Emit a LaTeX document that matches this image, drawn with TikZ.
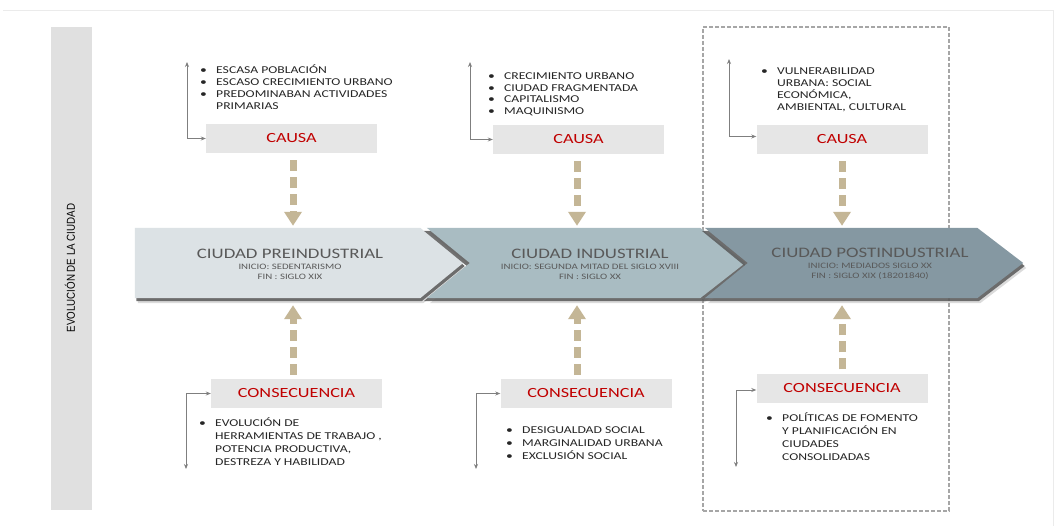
\documentclass[tikz,border=0pt]{standalone}
\usepackage{fontspec}
\setmainfont{Carlito}[FakeStretch=1.3]
\newfontfamily\narrowfont{Liberation Sans}[FakeStretch=0.85]
\usetikzlibrary{arrows.meta}
\definecolor{tanc}{HTML}{C4B696}
\definecolor{boxgray}{HTML}{E6E6E6}
\definecolor{causared}{HTML}{C00000}
\definecolor{listc}{HTML}{262626}
\definecolor{brk}{HTML}{7F7F7F}
\definecolor{barc}{HTML}{E0E0E0}
\definecolor{chA}{HTML}{DCE2E5}
\definecolor{chB}{HTML}{A9BCC2}
\definecolor{chC}{HTML}{8598A2}
\definecolor{chtext}{HTML}{595959}
\definecolor{dashc}{HTML}{A6A6A6}
\newcommand{\blist}[2]{\fontsize{10.5}{#1}\selectfont\begin{tabular}[t]{@{}p{16pt}@{}l@{}}#2\end{tabular}}
\tikzset{
  boxlbl/.style={fill=boxgray, minimum width=171pt, minimum height=29pt, inner sep=0pt, text=causared, font=\fontsize{14}{14}\selectfont},
  listnode/.style={anchor=base west, inner sep=0pt, text=listc},
  tanarrow/.style={draw=tanc, line width=7pt, dash pattern=on 11pt off 6pt, -{Triangle[width=17pt,length=14pt]}},
  bracket/.style={draw=brk, line width=0.8pt, {Stealth[length=5pt,width=4pt]}-{Stealth[length=5pt,width=4pt]}},
  chevbox/.style={minimum height=70pt, inner sep=0pt},
  chevshadow/.style={fill=black!65, opacity=0.85},
  chevblur/.style={fill=black!40, opacity=0.35},
  chevtext/.style={align=center, text=chtext, inner sep=0pt},
}
\begin{document}
\begin{tikzpicture}[x=1pt,y=-1pt]
\useasboundingbox (0,0) rectangle (1062,529);
\fill[white] (0,0) rectangle (1062,529);
\draw[black!8, line width=0.6pt] (3,10) -- (1053,10) -- (1053,526);

% side bar
\node[fill=barc, minimum width=41pt, minimum height=483pt, inner sep=0pt] (bar) at (71.5,268.5) {};
\node[rotate=90, font=\narrowfont\fontsize{11.5}{12}\selectfont, text=black] (bartext) at (70,268) {EVOLUCIÓN DE LA CIUDAD};

% dashed frame
\node[draw=dashc, line width=1.5pt, dash pattern=on 4pt off 2pt, minimum width=246pt, minimum height=484pt, inner sep=0pt] (frame) at (826,269) {};

% chevrons
\node[chevbox, minimum width=328pt] (ch1) at (299,263) {};
\node[chevbox, minimum width=318pt] (ch2) at (586,263) {};
\node[chevbox, minimum width=318pt] (ch3) at (864,263) {};

\fill[chevblur] ([shift={(3,5)}]ch1.north west) -- ([shift={(-40,5)}]ch1.north east) -- ([shift={(3,5)}]ch1.east) -- ([shift={(-40,5)}]ch1.south east) -- ([shift={(3,5)}]ch1.south west) -- cycle;
\fill[chevshadow] ([shift={(1.5,3)}]ch1.north west) -- ([shift={(-41.5,3)}]ch1.north east) -- ([shift={(1.5,3)}]ch1.east) -- ([shift={(-41.5,3)}]ch1.south east) -- ([shift={(1.5,3)}]ch1.south west) -- cycle;
\fill[chA] (ch1.north west) -- ([xshift=-43pt]ch1.north east) -- (ch1.east) -- ([xshift=-43pt]ch1.south east) -- (ch1.south west) -- cycle;

\fill[chevblur] ([shift={(3,5)}]ch2.north west) -- ([shift={(-42,5)}]ch2.north east) -- ([shift={(3,5)}]ch2.east) -- ([shift={(-42,5)}]ch2.south east) -- ([shift={(3,5)}]ch2.south west) -- ([shift={(46,5)}]ch2.west) -- cycle;
\fill[chevshadow] ([shift={(-3,3)}]ch2.north west) -- ([shift={(-43.5,3)}]ch2.north east) -- ([shift={(1.5,3)}]ch2.east) -- ([shift={(-43.5,3)}]ch2.south east) -- ([shift={(-3,3)}]ch2.south west) -- ([shift={(40,3)}]ch2.west) -- cycle;
\fill[chB] (ch2.north west) -- ([xshift=-45pt]ch2.north east) -- (ch2.east) -- ([xshift=-45pt]ch2.south east) -- (ch2.south west) -- ([xshift=43pt]ch2.west) -- cycle;

\fill[chevblur] ([shift={(3,5)}]ch3.north west) -- ([shift={(-43,5)}]ch3.north east) -- ([shift={(3,5)}]ch3.east) -- ([shift={(-43,5)}]ch3.south east) -- ([shift={(3,5)}]ch3.south west) -- ([shift={(46,5)}]ch3.west) -- cycle;
\fill[chevshadow] ([shift={(-3,3)}]ch3.north west) -- ([shift={(-44.5,3)}]ch3.north east) -- ([shift={(1.5,3)}]ch3.east) -- ([shift={(-44.5,3)}]ch3.south east) -- ([shift={(-3,3)}]ch3.south west) -- ([shift={(40,3)}]ch3.west) -- cycle;
\fill[chC] (ch3.north west) -- ([xshift=-46pt]ch3.north east) -- (ch3.east) -- ([xshift=-46pt]ch3.south east) -- (ch3.south west) -- ([xshift=43pt]ch3.west) -- cycle;

\node[chevtext] (t1) at (290,264) {{\fontsize{14.5}{16}\selectfont CIUDAD PREINDUSTRIAL}\\[-1pt]{\fontsize{8.3}{10}\selectfont INICIO: SEDENTARISMO}\\[-2pt]{\fontsize{8.3}{10}\selectfont FIN : SIGLO XIX}};
\node[chevtext] (t2) at (590,264) {{\fontsize{14.5}{16}\selectfont CIUDAD INDUSTRIAL}\\[-1pt]{\fontsize{8.3}{10}\selectfont INICIO: SEGUNDA MITAD DEL SIGLO XVIII}\\[-2pt]{\fontsize{8.3}{10}\selectfont FIN : SIGLO XX}};
\node[chevtext] (t3) at (870,264) {{\fontsize{14.5}{16}\selectfont CIUDAD POSTINDUSTRIAL}\\[-1pt]{\fontsize{8.3}{10}\selectfont INICIO: MEDIADOS SIGLO XX}\\[-2pt]{\fontsize{8.3}{10}\selectfont FIN : SIGLO XIX (18201840)}};

% causa / consecuencia boxes
\node[boxlbl] (causa1) at (291.5,138.5) {CAUSA};
\node[boxlbl] (causa2) at (578.5,139.5) {CAUSA};
\node[boxlbl] (causa3) at (842,139.5) {CAUSA};
\node[boxlbl] (cons1) at (296.5,393.5) {CONSECUENCIA};
\node[boxlbl] (cons2) at (586,393.5) {CONSECUENCIA};
\node[boxlbl] (cons3) at (842,388) {CONSECUENCIA};

% lists
\node[listnode] (l1) at (200,73.5) {\blist{12}{•&ESCASA POBLACIÓN\\•&ESCASO CRECIMIENTO URBANO\\•&PREDOMINABAN ACTIVIDADES\\&PRIMARIAS}};
\node[listnode] (l2) at (488,79.5) {\blist{11.7}{•&CRECIMIENTO URBANO\\•&CIUDAD FRAGMENTADA\\•&CAPITALISMO\\•&MAQUINISMO}};
\node[listnode] (l3) at (761,74.5) {\blist{11.7}{•&VULNERABILIDAD\\&URBANA: SOCIAL\\&ECONÓMICA,\\&AMBIENTAL, CULTURAL}};
\node[listnode] (l4) at (199,426.5) {\blist{13}{•&EVOLUCIÓN DE\\&HERRAMIENTAS DE TRABAJO ,\\&POTENCIA PRODUCTIVA,\\&DESTREZA Y HABILIDAD}};
\node[listnode] (l5) at (506,433.5) {\blist{13}{•&DESIGUALDAD SOCIAL\\•&MARGINALIDAD URBANA\\•&EXCLUSIÓN SOCIAL}};
\node[listnode] (l6) at (766,421.5) {\blist{13}{•&POLÍTICAS DE FOMENTO\\&Y PLANIFICACIÓN EN\\&CIUDADES\\&CONSOLIDADAS}};

% bracket connectors
\coordinate (b1) at (187,62);
\coordinate (b2) at (470,62);
\coordinate (b3) at (729,59);
\coordinate (b4) at (186,469);
\coordinate (b5) at (476,469);
\coordinate (b6) at (736,467);
\draw[bracket] (b1) |- (causa1.west);
\draw[bracket] (b2) |- (causa2.west);
\draw[bracket] (b3) |- ([yshift=3pt]causa3.west);
\draw[bracket] (b4) |- (cons1.west);
\draw[bracket] (b5) |- (cons2.west);
\draw[bracket] (b6) |- ([yshift=-2pt]cons3.west);

% tan dashed arrows
\draw[tanarrow] ([yshift=-7pt]causa1.south -| 293,0) -- ([yshift=2pt]ch1.north -| 293,0);
\draw[tanarrow] ([yshift=-7pt]causa2.south -| 577,0) -- ([yshift=2pt]ch2.north -| 577,0);
\draw[tanarrow] ([yshift=-7pt]causa3.south) -- ([yshift=2pt]ch3.north -| causa3.south);
\draw[tanarrow] ([yshift=4pt]cons1.north -| 293,0) -- ([yshift=-7pt]ch1.south -| 293,0);
\draw[tanarrow] ([yshift=4pt]cons2.north -| 577,0) -- ([yshift=-7pt]ch2.south -| 577,0);
\draw[tanarrow] ([yshift=4pt]cons3.north) -- ([yshift=-7pt]ch3.south -| cons3.north);
\end{tikzpicture}
\end{document}
